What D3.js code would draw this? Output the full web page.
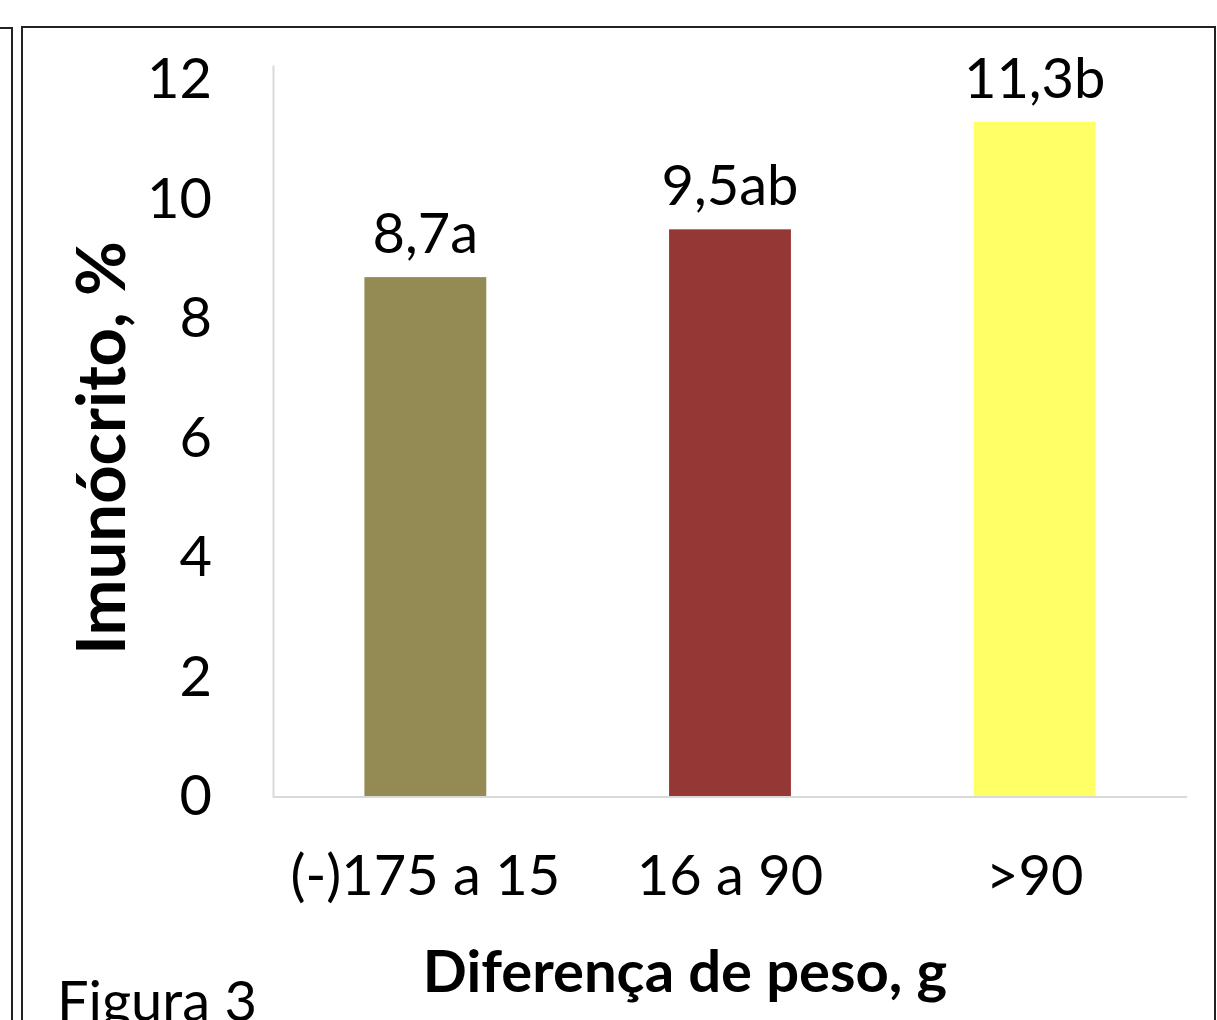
<!DOCTYPE html>
<html>
<head>
<meta charset="utf-8">
<script src="https://cdn.jsdelivr.net/npm/d3@7"></script>
<style>
  html, body { margin: 0; padding: 0; background: #fff; }
  svg { display: block; font-family: Lato, "Open Sans", sans-serif; }
</style>
</head>
<body>
<svg id="chart" width="1217" height="1020"></svg>
<script>
// data
const categories = ["(-)175 a 15", "16 a 90", ">90"];
const values = [8.7, 9.5, 11.3];
const valueLabels = ["8,7a", "9,5ab", "11,3b"];
const barColors = ["#948A54", "#953735", "#FFFF66"];
const yTicks = [0, 2, 4, 6, 8, 10, 12];

const svg = d3.select("#chart");

// frame lines (page boxes)
svg.append("rect")
  .attr("x", 22).attr("y", 27)
  .attr("width", 1193).attr("height", 1100)
  .attr("fill", "none").attr("stroke", "#222").attr("stroke-width", 2);
svg.append("path")
  .attr("d", "M0,28 H12 V1030")
  .attr("fill", "none").attr("stroke", "#222").attr("stroke-width", 2);

const plot = { left: 273, right: 1187, top: 65, bottom: 797 };

const xScale = d3.scaleBand()
  .domain(categories)
  .range([plot.left, plot.right])
  .paddingInner(0.6)
  .paddingOuter(0.3);

const yScale = d3.scaleLinear()
  .domain([0, 12.25])
  .range([plot.bottom, plot.top]);

// bars
svg.append("g")
  .selectAll("rect")
  .data(values)
  .join("rect")
  .attr("x", (d, i) => xScale(categories[i]))
  .attr("y", d => yScale(d))
  .attr("width", xScale.bandwidth())
  .attr("height", d => yScale(0) - yScale(d))
  .attr("fill", (d, i) => barColors[i]);

// axes
const yAxis = d3.axisLeft(yScale).tickValues(yTicks).tickSize(0).tickPadding(61);
const gy = svg.append("g")
  .attr("transform", `translate(${plot.left},0)`)
  .call(yAxis);
gy.select(".domain").attr("stroke", "#D9D9D9").attr("stroke-width", 2);
gy.selectAll("text")
  .attr("font-size", 56)
  .attr("fill", "#000")
  .attr("font-family", "Lato, sans-serif");

const xAxis = d3.axisBottom(xScale).tickSize(0).tickPadding(58);
const gx = svg.append("g")
  .attr("transform", `translate(0,${plot.bottom})`)
  .call(xAxis);
gx.select(".domain").attr("stroke", "#D9D9D9").attr("stroke-width", 2)
  .attr("d", `M${plot.left},0H${plot.right}`);
gx.selectAll("text")
  .attr("font-size", 56)
  .attr("fill", "#000")
  .attr("font-family", "Lato, sans-serif");

// value labels
svg.append("g")
  .selectAll("text")
  .data(values)
  .join("text")
  .attr("x", (d, i) => xScale(categories[i]) + xScale.bandwidth() / 2)
  .attr("y", d => yScale(d) - 24)
  .attr("text-anchor", "middle")
  .attr("font-size", 56)
  .text((d, i) => valueLabels[i]);

// axis titles
svg.append("text")
  .attr("x", 685)
  .attr("y", 992)
  .attr("text-anchor", "middle")
  .attr("font-size", 58)
  .attr("font-weight", "bold")
  .text("Diferença de peso, g");

svg.append("text")
  .attr("transform", "translate(125,448) rotate(-90)")
  .attr("text-anchor", "middle")
  .attr("font-size", 67)
  .attr("font-weight", "bold")
  .text("Imunócrito, %");

svg.append("text")
  .attr("x", 57)
  .attr("y", 1021)
  .attr("font-size", 56)
  .text("Figura 3");
</script>
</body>
</html>
